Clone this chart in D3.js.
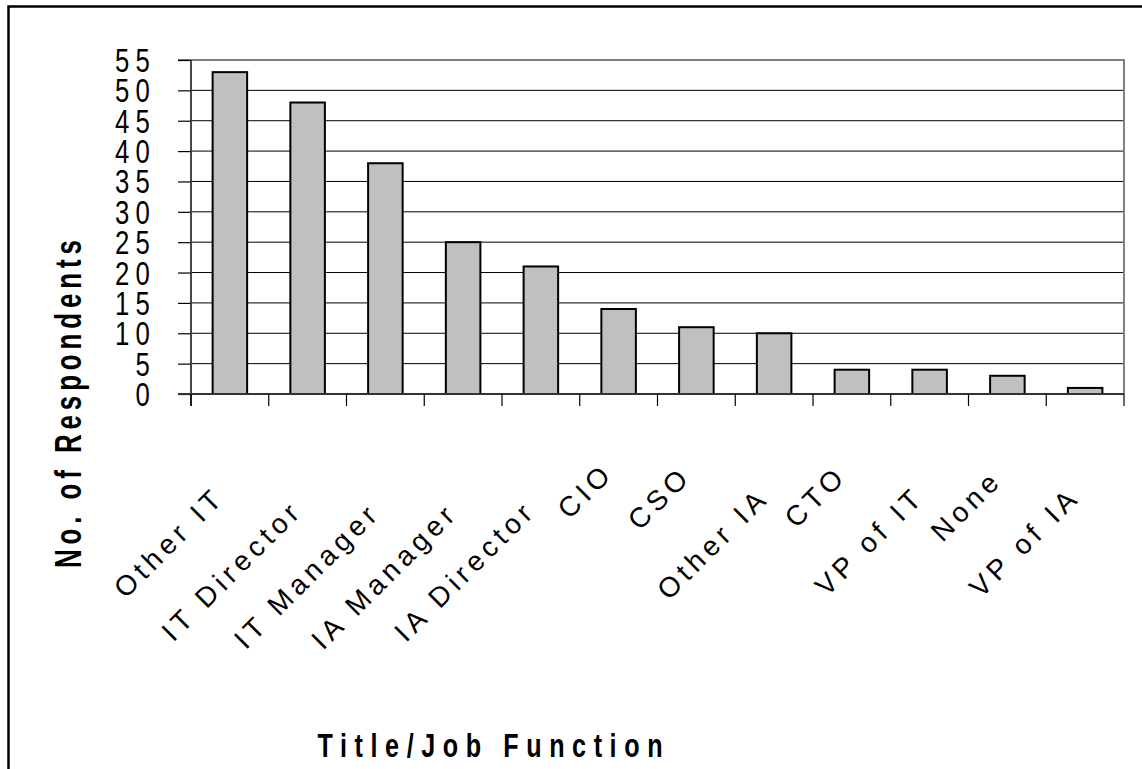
<!DOCTYPE html>
<html>
<head>
<meta charset="utf-8">
<script src="https://cdn.jsdelivr.net/npm/d3@7"></script>
<style>
  html, body { margin: 0; padding: 0; background: #fff; }
  svg { display: block; }
  text { font-family: "Liberation Sans", Arial, sans-serif; fill: #000; }
</style>
</head>
<body>
<script>
// Survey respondents by title / job function
const categories = ["Other IT", "IT Director", "IT Manager", "IA Manager", "IA Director",
                    "CIO", "CSO", "Other IA", "CTO", "VP of IT", "None", "VP of IA"];
const respondents = [53, 48, 38, 25, 21, 14, 11, 10, 4, 4, 3, 1];
const yTickValues = [0, 5, 10, 15, 20, 25, 30, 35, 40, 45, 50, 55];
const yTitle = "No. of Respondents";
const xTitle = "Title/Job Function";

const W = 1142, H = 769;
const plot = { left: 191, right: 1124, top: 60, bottom: 394 };

const svg = d3.select("body").append("svg")
  .attr("width", W).attr("height", H);

svg.append("rect").attr("width", W).attr("height", H).attr("fill", "#fff");

// outer chart frame (runs off the right and bottom edges)
svg.append("rect")
  .attr("x", 8.5).attr("y", 6.5)
  .attr("width", 1300).attr("height", 1000)
  .attr("fill", "none").attr("stroke", "#000").attr("stroke-width", 2.5);

const x = d3.scaleBand()
  .domain(categories)
  .range([plot.left, plot.right])
  .paddingInner(0.556)
  .paddingOuter(0.278);

const y = d3.scaleLinear()
  .domain([0, 55])
  .range([plot.bottom, plot.top]);

// horizontal gridlines
svg.append("g").selectAll("line")
  .data(yTickValues.filter(v => v > 0 && v < 55))
  .join("line")
  .attr("x1", plot.left).attr("x2", plot.right)
  .attr("y1", d => y(d)).attr("y2", d => y(d))
  .attr("stroke", "#000").attr("stroke-width", 1);

// plot area border (top and right)
svg.append("path")
  .attr("d", `M${plot.left - 13},${y(55)}H${plot.right}V${plot.bottom}`)
  .attr("fill", "none").attr("stroke", "#808080").attr("stroke-width", 2);

// bars
svg.append("g").selectAll("rect")
  .data(categories.map((c, i) => ({ c, v: respondents[i] })))
  .join("rect")
  .attr("x", d => x(d.c))
  .attr("y", d => y(d.v))
  .attr("width", x.bandwidth())
  .attr("height", d => y(0) - y(d.v))
  .attr("fill", "#c0c0c0")
  .attr("stroke", "#000").attr("stroke-width", 2);

// y axis
const yAxis = d3.axisLeft(y).tickValues(yTickValues).tickSize(13).tickFormat("");
const yg = svg.append("g").attr("transform", `translate(${plot.left},0)`).call(yAxis);
yg.select(".domain").remove();
yg.selectAll(".tick line").attr("stroke", "#000").attr("stroke-width", 1.2);
svg.append("line")
  .attr("x1", plot.left).attr("x2", plot.left)
  .attr("y1", plot.top).attr("y2", plot.bottom + 12)
  .attr("stroke", "#333").attr("stroke-width", 1.8);

// y tick labels: tall narrow digits with wide spacing
const tickSpacing = 8;
svg.append("g").selectAll("text")
  .data(yTickValues)
  .join("text")
  .attr("transform", d => `translate(${156},${y(d) + 12})scale(0.78,1)`)
  .attr("text-anchor", "end")
  .attr("font-size", 33)
  .attr("letter-spacing", tickSpacing)
  .text(d => d);

// x axis baseline and category boundary ticks
svg.append("line")
  .attr("x1", plot.left - 13).attr("x2", plot.right)
  .attr("y1", plot.bottom).attr("y2", plot.bottom)
  .attr("stroke", "#333").attr("stroke-width", 1.8);
const boundaries = categories.map(c => x(c) - x.step() * x.paddingOuter()).concat([plot.right]);
svg.append("g").selectAll("line")
  .data(boundaries)
  .join("line")
  .attr("x1", d => d).attr("x2", d => d)
  .attr("y1", plot.bottom).attr("y2", plot.bottom + 12)
  .attr("stroke", "#000").attr("stroke-width", 1.2);

// rotated category labels
const labelSpacing = 5;
const labels = svg.append("g").selectAll("text")
  .data(categories)
  .join("text")
  .attr("text-anchor", "end")
  .attr("font-size", 28)
  .attr("letter-spacing", labelSpacing)
  .text(d => d);
labels.each(function (d) {
  const L = this.getComputedTextLength();
  const cx = x(d) + x.bandwidth() / 2 - 7;
  const by = plot.bottom + 64 + 0.31 * L;
  d3.select(this)
    .attr("transform", `translate(${cx},${by})rotate(-45)`)
    .attr("x", labelSpacing);
});

// axis titles: narrow bold glyphs spread out with wide spacing
const yTitleScale = 0.7;
svg.append("text")
  .attr("transform", `translate(${81},${404})rotate(-90)scale(${yTitleScale},1)`)
  .attr("text-anchor", "middle")
  .attr("font-size", 37)
  .attr("font-weight", "bold")
  .attr("textLength", 328 / yTitleScale)
  .attr("lengthAdjust", "spacing")
  .text(yTitle);

const xTitleScale = 0.74;
svg.append("text")
  .attr("transform", `translate(${490},${757})scale(${xTitleScale},1)`)
  .attr("text-anchor", "middle")
  .attr("font-size", 34)
  .attr("font-weight", "bold")
  .attr("textLength", 345 / xTitleScale)
  .attr("lengthAdjust", "spacing")
  .text(xTitle);
</script>
</body>
</html>
